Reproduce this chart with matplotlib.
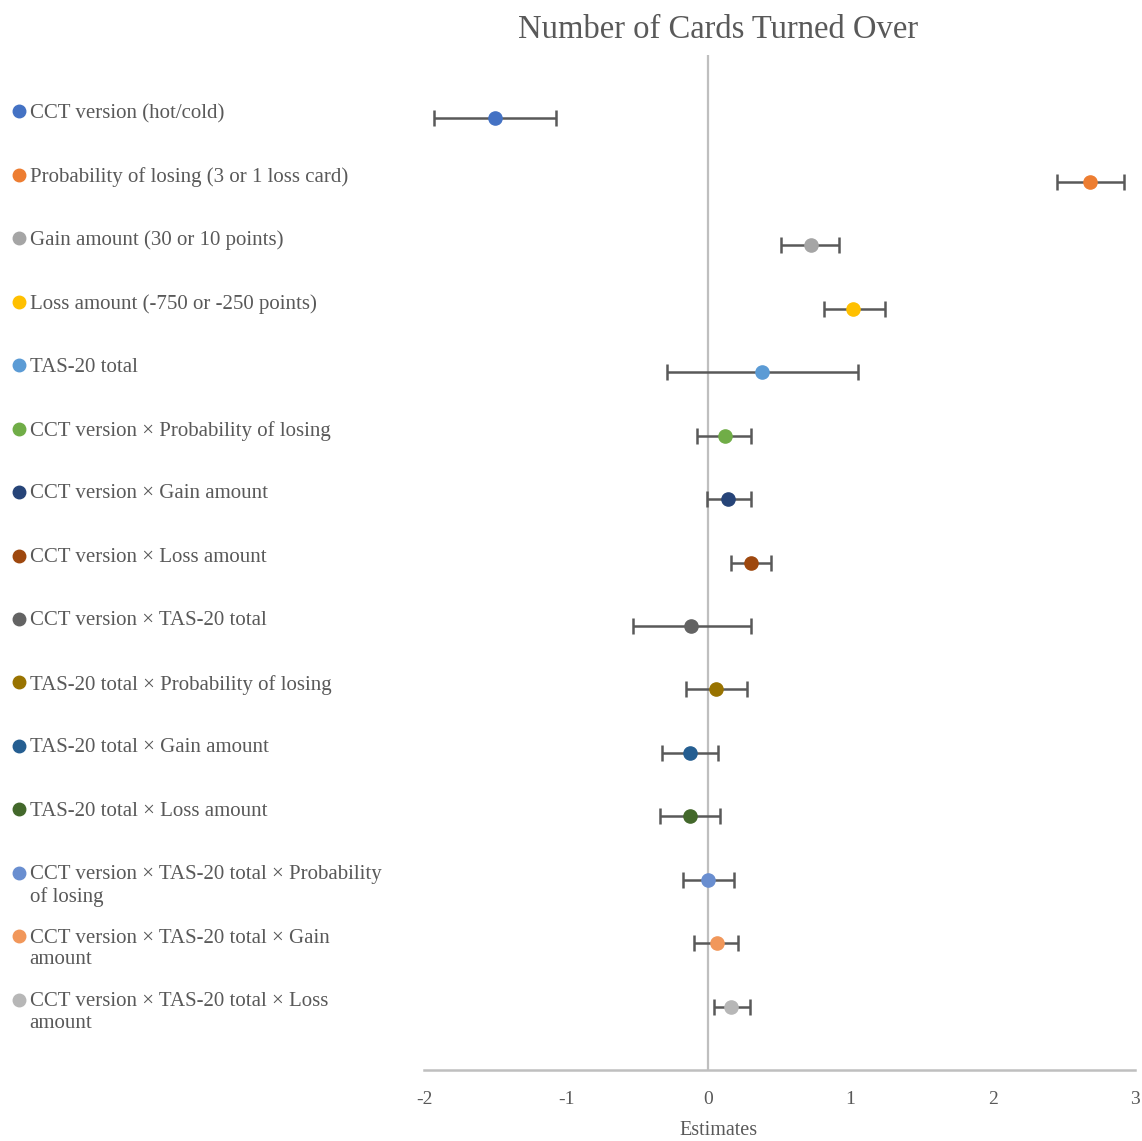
import matplotlib.pyplot as plt
import matplotlib.transforms as mtransforms
import numpy as np

plt.rcParams['font.family'] = ['Liberation Serif', 'DejaVu Serif']
plt.rcParams['axes.unicode_minus'] = False

# model terms, estimates and confidence bounds
terms = [
    "CCT version (hot/cold)",
    "Probability of losing (3 or 1 loss card)",
    "Gain amount (30 or 10 points)",
    "Loss amount (-750 or -250 points)",
    "TAS-20 total",
    "CCT version \u00d7 Probability of losing",
    "CCT version \u00d7 Gain amount",
    "CCT version \u00d7 Loss amount",
    "CCT version \u00d7 TAS-20 total",
    "TAS-20 total \u00d7 Probability of losing",
    "TAS-20 total \u00d7 Gain amount",
    "TAS-20 total \u00d7 Loss amount",
    "CCT version \u00d7 TAS-20 total \u00d7 Probability\nof losing",
    "CCT version \u00d7 TAS-20 total \u00d7 Gain\namount",
    "CCT version \u00d7 TAS-20 total \u00d7 Loss\namount",
]
estimates = [-1.50, 2.68, 0.72, 1.02, 0.38, 0.12, 0.14, 0.30, -0.12, 0.05,
             -0.13, -0.13, 0.00, 0.06, 0.16]
lower = [-1.93, 2.45, 0.51, 0.81, -0.29, -0.08, -0.01, 0.16, -0.53, -0.16,
         -0.33, -0.34, -0.18, -0.10, 0.04]
upper = [-1.07, 2.92, 0.92, 1.24, 1.05, 0.30, 0.30, 0.44, 0.30, 0.27,
         0.07, 0.08, 0.18, 0.21, 0.29]
colors = ["#4472C4", "#ED7D31", "#A5A5A5", "#FFC000", "#5B9BD5", "#70AD47",
          "#264478", "#9E480E", "#636363", "#997300", "#255E91", "#43682B",
          "#698ED0", "#F1975A", "#B7B7B7"]

text_col = "#595959"
grid_col = "#BFBFBF"

fig = plt.figure(figsize=(11.42, 11.41), dpi=100)
ax = fig.add_axes([0.3713, 0.0622, 0.6226, 0.8896])

ypos = np.arange(1, len(terms) + 1)
est = np.array(estimates)
err = np.vstack([est - np.array(lower), np.array(upper) - est])

ax.axvline(0, color=grid_col, lw=1.6, zorder=1)
for i in range(len(terms)):
    ax.errorbar(est[i], ypos[i], xerr=err[:, i:i + 1], fmt='o', color=colors[i],
                ms=9.5, ecolor=text_col, elinewidth=1.8, capsize=6, capthick=1.8,
                zorder=3)

ax.set_xlim(-2, 3)
ax.set_ylim(len(terms) + 1, 0)
ax.set_xticks(np.arange(-2, 4, 1))
ax.set_yticks([])
for s in ['top', 'right', 'left']:
    ax.spines[s].set_visible(False)
ax.spines['bottom'].set_color(grid_col)
ax.spines['bottom'].set_linewidth(1.8)
ax.tick_params(axis='x', length=0, pad=15, labelsize=14, labelcolor=text_col)
ax.set_xlabel("Estimates", fontsize=14.5, color=text_col)
ax.xaxis.set_label_coords(0.4135, -0.050)
fig.text(718 / 1142, 1 - 30 / 1141, "Number of Cards Turned Over",
         ha='center', va='center', fontsize=23.5, color=text_col)

# legend drawn beside the axes, one entry per row
trans = mtransforms.blended_transform_factory(fig.transFigure, ax.transData)
txt_trans = trans + mtransforms.ScaledTranslation(0, 5.5 / 72, fig.dpi_scale_trans)
for i, name in enumerate(terms):
    yl = ypos[i] - 0.11
    ax.plot([0.0166], [yl], 'o', ms=9, color=colors[i], transform=trans,
            clip_on=False)
    ax.text(0.026, yl, name, transform=txt_trans, ha='left', va='top',
            fontsize=15, color=text_col, linespacing=1.2)

fig.savefig("out.png", dpi=100)
